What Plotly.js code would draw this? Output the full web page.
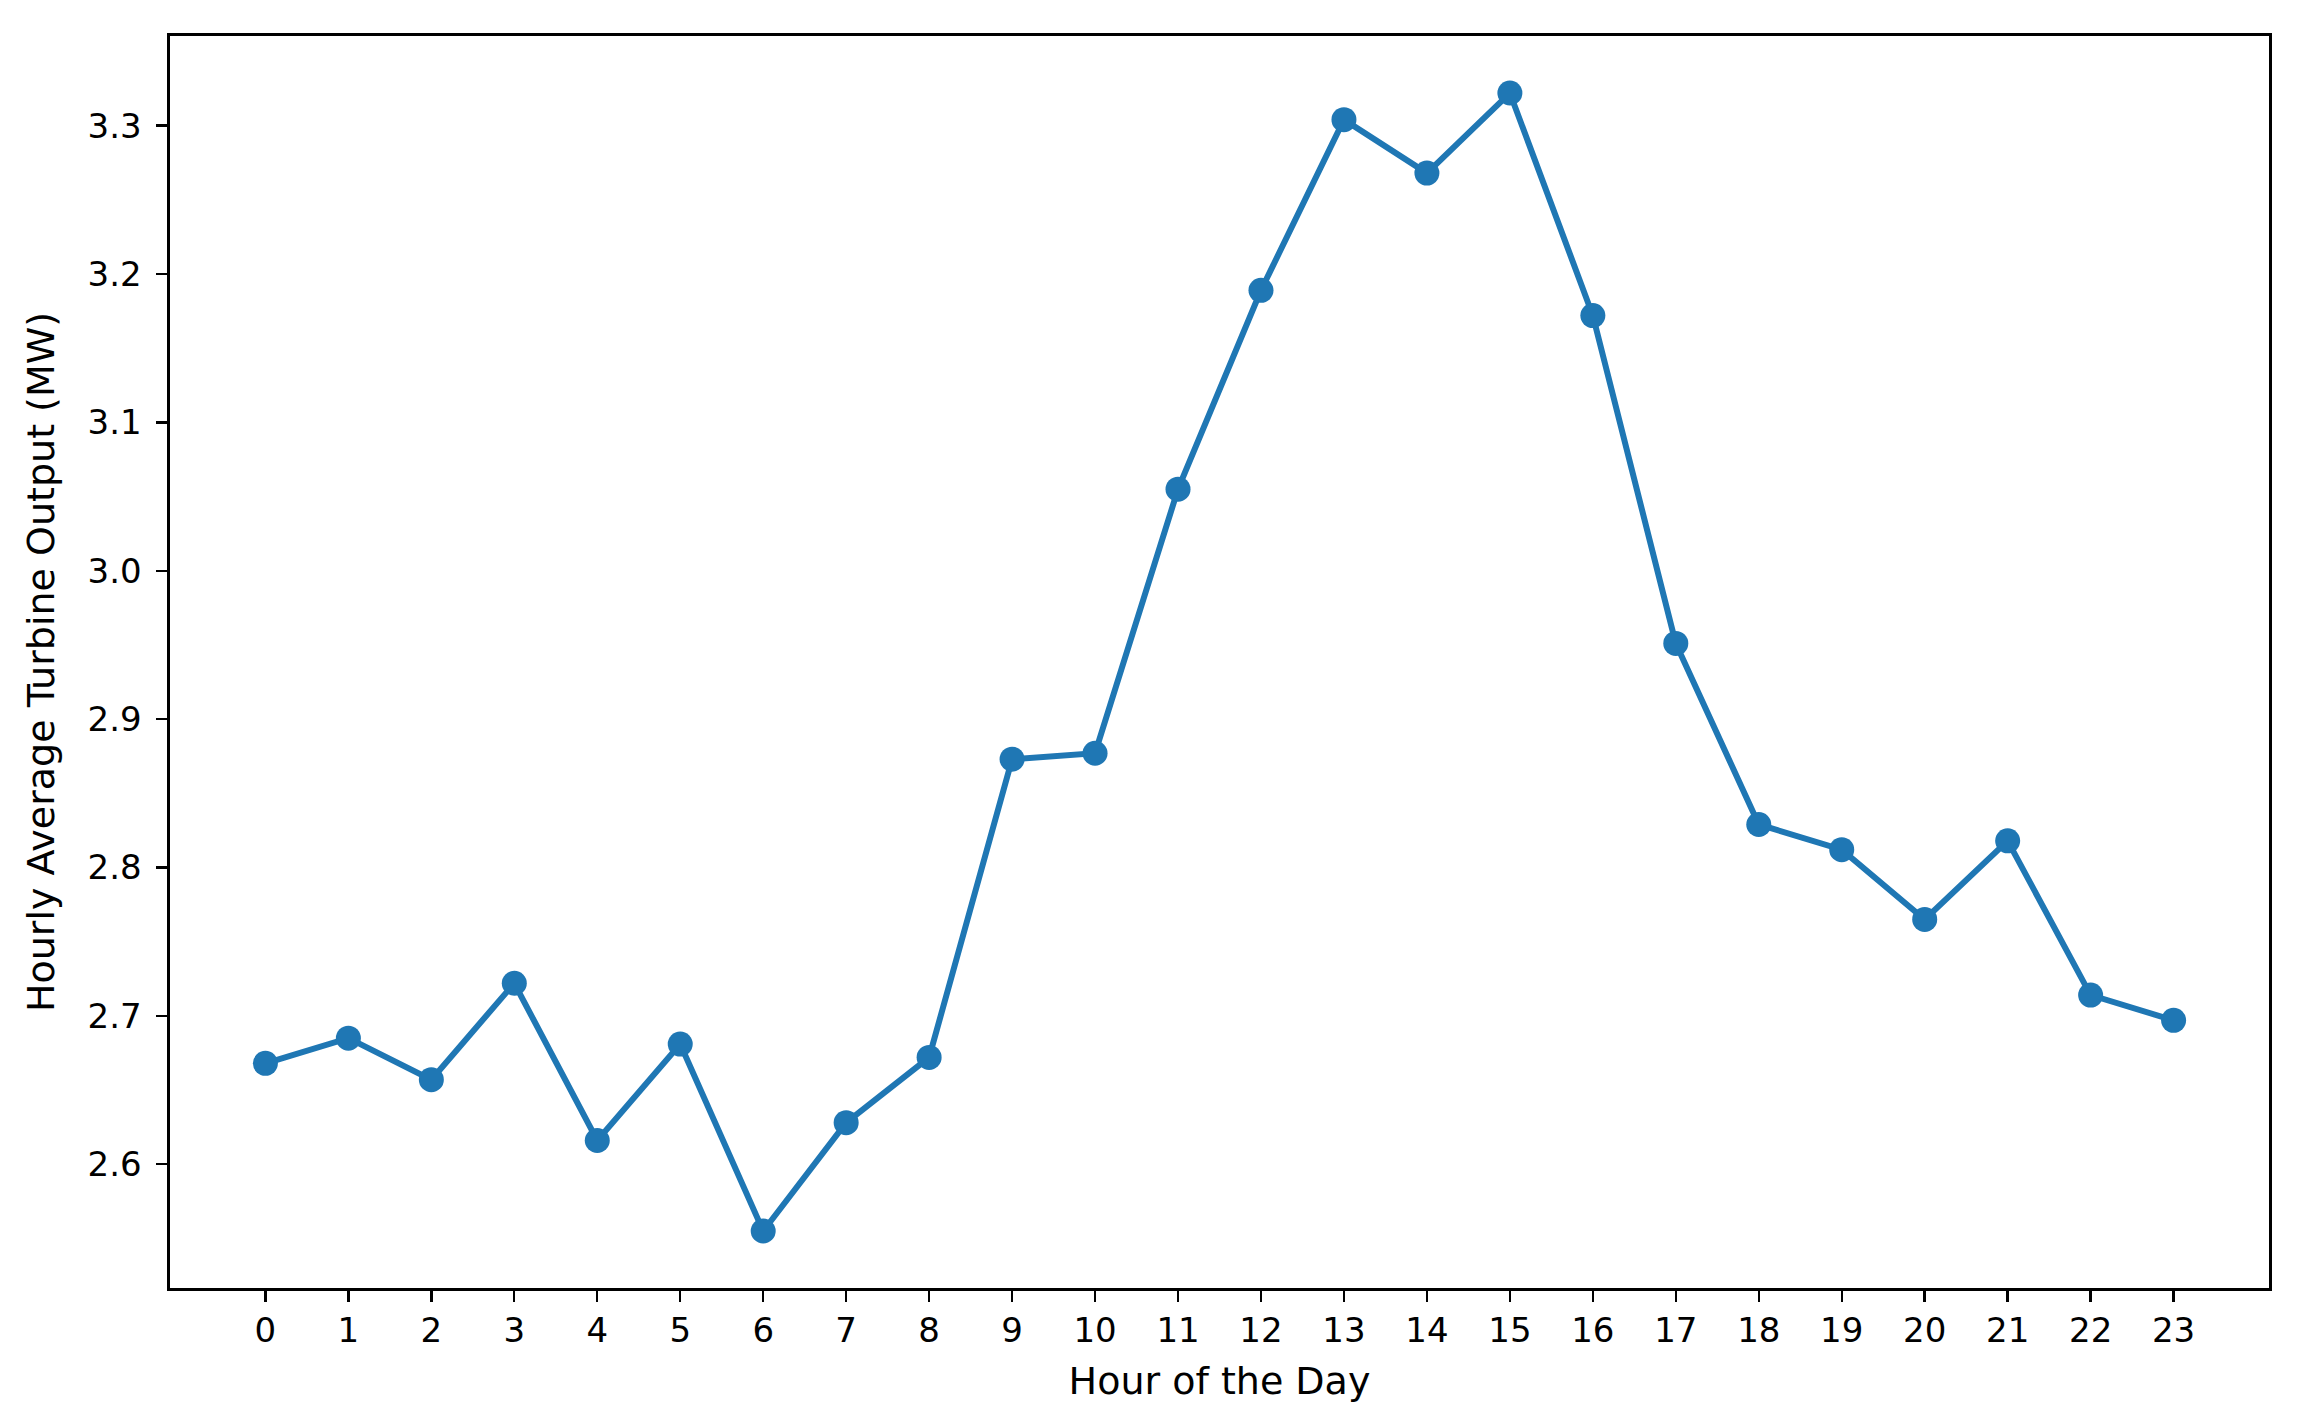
<!DOCTYPE html>
<html>
<head>
<meta charset="utf-8">
<script src="https://cdn.plot.ly/plotly-3.0.1.min.js"></script>
<style>
  html, body { margin: 0; padding: 0; background: #fff; }
  #chart { width: 2299px; height: 1425px; }
</style>
</head>
<body>
<div id="chart"></div>
<script>
'use strict'

var hours = [0, 1, 2, 3, 4, 5, 6, 7, 8, 9, 10, 11, 12, 13, 14, 15, 16, 17, 18, 19, 20, 21, 22, 23];
var output = [2.668, 2.685, 2.657, 2.722, 2.616, 2.681, 2.555, 2.628, 2.672, 2.873, 2.877, 3.055,
              3.189, 3.304, 3.268, 3.322, 3.172, 2.951, 2.829, 2.812, 2.765, 2.818, 2.714, 2.697];
var yTicks = [2.6, 2.7, 2.8, 2.9, 3.0, 3.1, 3.2, 3.3];

var fontFam = 'DejaVu Sans, sans-serif';

var HourlyOutput = {
    type: 'scatter',
    mode: 'lines+markers',
    x: hours,
    y: output,
    line: {color: '#1f77b4', width: 6},
    marker: {color: '#1f77b4', size: 25},
    hoverinfo: 'x+y'
}

var layout = {
    width: 2299,
    height: 1425,
    margin: {l: 170, r: 30, t: 36, b: 137},
    paper_bgcolor: '#ffffff',
    plot_bgcolor: '#ffffff',
    showlegend: false,
    font: {family: fontFam, size: 34, color: '#000000'},
    xaxis: {
        range: [-1.15, 24.15],
        tickmode: 'array',
        tickvals: hours,
        ticktext: hours.map(String),
        ticks: 'outside',
        ticklen: 11,
        tickwidth: 2.4,
        tickcolor: '#000',
        showline: true,
        mirror: true,
        linecolor: '#000',
        linewidth: 2.6,
        showgrid: false,
        zeroline: false,
        tickfont: {family: fontFam, size: 34},
        title: {
            text: 'Hour of the Day',
            font: {family: fontFam, size: 38},
            standoff: 18
        }
    },
    yaxis: {
        range: [2.5166, 3.3604],
        tickmode: 'array',
        tickvals: yTicks,
        ticktext: yTicks.map(function(v) { return v.toFixed(1); }),
        ticks: 'outside',
        ticklen: 11,
        tickwidth: 2.4,
        tickcolor: '#000',
        ticklabelstandoff: 8,
        showline: true,
        mirror: true,
        linecolor: '#000',
        linewidth: 2.6,
        showgrid: false,
        zeroline: false,
        tickfont: {family: fontFam, size: 34},
        title: {
            text: 'Hourly Average Turbine Output (MW)',
            font: {family: fontFam, size: 38},
            standoff: 22
        }
    }
}

Plotly.newPlot('chart', [HourlyOutput], layout, {displayModeBar: false, staticPlot: true});
</script>
</body>
</html>
